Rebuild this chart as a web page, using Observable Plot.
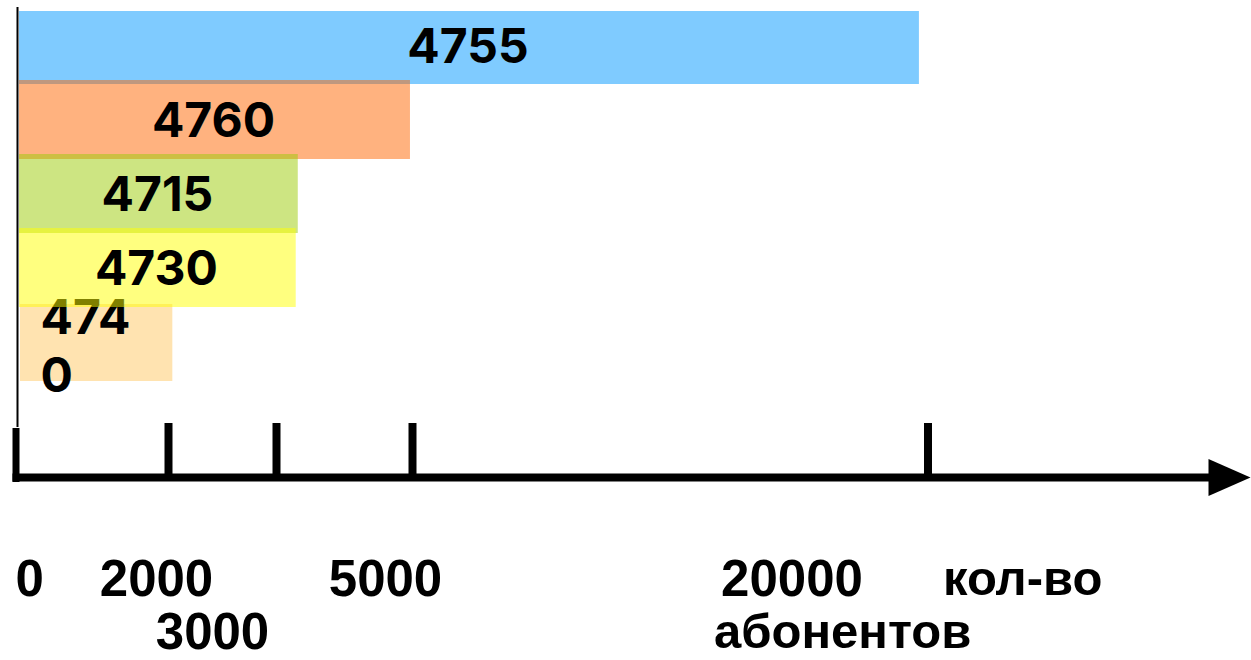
<!DOCTYPE html>
<html>
<head>
<meta charset="utf-8">
<script src="https://cdn.jsdelivr.net/npm/d3@7"></script>
<script src="https://cdn.jsdelivr.net/npm/@observablehq/plot@0.6"></script>
<style>
  html, body { margin: 0; padding: 0; background: #fff; }
  #chart svg { display: block; }
</style>
</head>
<body>
<div id="chart"></div>
<script>
// ---- data ----
const categories = ["4755", "4760", "4715", "4730", "4740"];
const barLabels = ["4755", "4760", "4715", "4730", "474\n0"];
const values = [19750, 4970, 3320, 3290, 2040];
const colors = ["#0097FF", "#FF6600", "#9BCB05", "#FFFF00", "#FFC761"];
const tickValues = [0, 2000, 3000, 5000, 20000];
const tickLabels = ["0", "2000", "3000", "5000", "20000"];
const axisTitle = ["кол-во", "абонентов"];

// ---- non-linear (hand-drawn) axis: piecewise transform of values ----
const tickSpacing = [0, 152, 260, 396, 911.5];
const t = d3.scaleLinear(tickValues, tickSpacing);

const bars = categories.map((c, i) => ({
  code: c, label: barLabels[i], value: values[i], color: colors[i]
}));

const W = 1251, H = 660, mTop = 7, mBottom = 183, mLeft = 12, mRight = 22;
const frameH = H - mTop - mBottom;

const arrowHead = {
  draw(context, size) {
    const r = Math.sqrt(size / Math.PI);
    context.moveTo(r, 0);
    context.lineTo(-r, -0.88 * r);
    context.lineTo(-r, 0.88 * r);
    context.closePath();
  }
};

const numFont = "Inter, 'Noto Sans', sans-serif";
const axisFont = "'Liberation Sans', Arial, sans-serif";

// tick label placement (style offsets, not data)
const tickLabelLayout = [
  {anchor: "start", dx: -1, row: 0},
  {anchor: "middle", dx: -12, row: 0},
  {anchor: "middle", dx: -64, row: 1},
  {anchor: "middle", dx: -27, row: 0},
  {anchor: "middle", dx: -136, row: 0}
];
const rowDy = [102, 155];

const tickLabelMarks = tickValues.map((v, i) => Plot.text([v], {
  x: d => d,
  frameAnchor: "bottom",
  lineAnchor: "middle",
  text: () => tickLabels[i],
  textAnchor: tickLabelLayout[i].anchor,
  dx: tickLabelLayout[i].dx,
  dy: rowDy[tickLabelLayout[i].row],
  fontSize: 51,
  fontWeight: 700,
  fontFamily: axisFont,
  fill: "black"
}));

const last = tickValues[tickValues.length - 1];
const firstBar = bars.filter(d => d.code === categories[0]);
const middleBars = bars.filter(d => d.code !== categories[0] && d.code !== categories[4]);
const lastBar = bars.filter(d => d.code === categories[4]);
const barStyle = {x1: 0, x2: "value", y: "code", fill: "color", fillOpacity: 0.5};

const chart = Plot.plot({
  width: W,
  height: H,
  marginTop: mTop,
  marginBottom: mBottom,
  marginLeft: mLeft,
  marginRight: mRight,
  x: {type: "linear", transform: t, range: [16, 927.5], axis: null},
  y: {type: "band", domain: categories, range: [11, 381], padding: 0, axis: null},
  marks: [
    // thin vertical axis line
    Plot.ruleX([0], {stroke: "black", strokeWidth: 2, insetBottom: 50, dx: 1}),
    // last bar and its label first (the yellow bar overlaps them)
    Plot.barX(lastBar, {...barStyle, insetLeft: 4, insetTop: -3}),
    Plot.text(lastBar, {
      x: 0, y: "code", text: "label", textAnchor: "start", dx: 24,
      lineHeight: 1.2, fontSize: 48, fontWeight: 700, fontFamily: numFont, fill: "black"
    }),
    Plot.barX(firstBar, {...barStyle, insetLeft: 3, insetBottom: 1}),
    Plot.barX(middleBars, {...barStyle, insetLeft: 3, insetTop: -5}),
    Plot.text(bars.filter(d => d.code !== categories[4]), {
      x: d => t.invert((t(0) + t(d.value)) / 2), y: "code", text: "label",
      dy: -1, fontSize: 48, fontWeight: 700, fontFamily: numFont, fill: "black"
    }),
    // horizontal axis line
    Plot.frame({fill: "black", stroke: null, insetTop: frameH - 4, insetBottom: -4}),
    // tick marks
    Plot.ruleX(tickValues.slice(1), {stroke: "black", strokeWidth: 8, insetTop: frameH - 54}),
    Plot.ruleX([0], {stroke: "black", strokeWidth: 7, insetTop: frameH - 49, insetBottom: -5, dx: -0.5}),
    // arrow head
    Plot.dot([0], {x: null, y: null, frameAnchor: "bottom-right", symbol: arrowHead, r: 21, fill: "black", stroke: null}),
    ...tickLabelMarks,
    Plot.text([last], {
      x: d => d, frameAnchor: "bottom", lineAnchor: "middle", text: () => axisTitle[0], textAnchor: "start",
      dx: 15, dy: rowDy[0], fontSize: 49, fontWeight: 700, fontFamily: axisFont, fill: "black"
    }),
    Plot.text([last], {
      x: d => d, frameAnchor: "bottom", lineAnchor: "middle", text: () => axisTitle[1], textAnchor: "start",
      dx: -214, dy: rowDy[1], fontSize: 49, fontWeight: 700, fontFamily: axisFont, fill: "black"
    })
  ]
});

document.getElementById("chart").appendChild(chart);
</script>
</body>
</html>
